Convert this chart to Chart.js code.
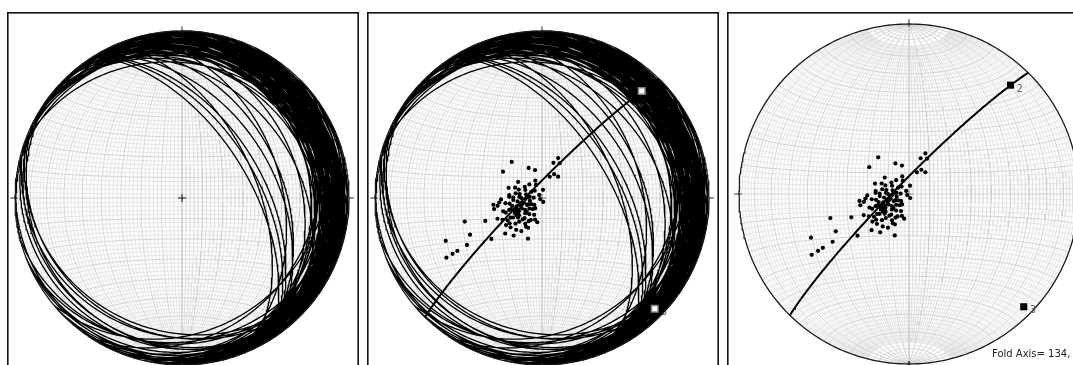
<!DOCTYPE html>
<html><head><meta charset="utf-8">
<script src="https://cdn.jsdelivr.net/npm/chart.js@4.4.1/dist/chart.umd.min.js"></script>
<style>
html,body{margin:0;padding:0;background:#fff;overflow:hidden;width:1073px;height:365px;}
canvas.panel{position:absolute;top:12px;}
</style></head><body>
<canvas id="c1" class="panel" style="left:7px" width="352" height="360"></canvas>
<canvas id="c2" class="panel" style="left:367px" width="352" height="360"></canvas>
<canvas id="c3" class="panel" style="left:727px" width="352" height="360"></canvas>
<script>
// ---- data (poles to planes, lower hemisphere, degrees) ----
const poleTrend = [22,18,27,320,304,336,346,27,20,37,304,339,317,335,303,291,7,280,315,272,271,273,267,276,318,240,163,
  264,262,260,253,245,229,257,251,250,228,214,245,241,237,236,231,221,207,191,233,227,219,212,209,226,217,199,
  253,248,243,238,238,246,238,238,231,
  250,262,240,228,255,270,283,245,233,218,262,248,236,224,210,275,290,300,258,215,205,243,266,252,230,198,287,274,238,222,
  256,268,246,235,280,226,213,260,296,250,240,220,272,232,205];
const polePlunge = [69,72,71,67,67,74,76,77,79,77,76,81,81,83,80,76,86,77,85,74,76,79,82,84,88,89,88,
  69,66,74,80,83,85,66,70,74,80,84,66,68,70,73,75,77,78,78,68,69,70,71,74,65,67,69,
  50,60,50,40,46,37,33,37,58,
  79,78,77,79,75,80,82,82,76,80,72,71,75,74,77,74,78,84,84,84,81,79,76,77,82,79,73,83,72,76,
  81,70,76,80,79,72,75,68,81,73,84,83,86,70,74];
const eigenTrend = [243, 43, 134.5];
const eigenPlunge = [76, 13.5, 6];
const eigenLabels = ['', '2', '3'];
const foldAxisText = 'Fold Axis= 134,';
const netStep = 2, netMajor = 10, netCap = 14;

// ---- projection helpers (equal-area, lower hemisphere) ----
const D = Math.PI / 180;
function proj(trend, plunge) {
  const r = Math.SQRT2 * Math.sin((90 - plunge) / 2 * D);
  return { x: r * Math.sin(trend * D), y: r * Math.cos(trend * D) };
}
function vecProj(e, n, d) {
  if (d < 0) { e = -e; n = -n; d = -d; }
  const pl = Math.asin(Math.min(1, d)) / D;
  const tr = Math.atan2(e, n) / D;
  return proj(tr, pl);
}
function greatCircle(dd, dip, a0, a1, step) {
  const st = (dd - 90) * D;
  const s = [Math.sin(st), Math.cos(st), 0];
  const cd = Math.cos(dip * D), sd = Math.sin(dip * D);
  const dv = [cd * Math.sin(dd * D), cd * Math.cos(dd * D), sd];
  const pts = [];
  for (let a = a0; a <= a1 + 1e-9; a += step) {
    const c = Math.cos(a * D), sn = Math.sin(a * D);
    pts.push(vecProj(c * s[0] + sn * dv[0], c * s[1] + sn * dv[1], c * s[2] + sn * dv[2]));
  }
  return pts;
}
function smallCircleNS(cone, north, step) {
  const pts = [], sgn = north ? 1 : -1;
  for (let p = 0; p <= 180 + 1e-9; p += step) {
    const sc = Math.sin(cone * D);
    pts.push(vecProj(sc * Math.cos(p * D), sgn * Math.cos(cone * D), sc * Math.sin(p * D)));
  }
  return pts;
}
function join(lines) {
  const out = [];
  lines.forEach((l, i) => { if (i) out.push({ x: null, y: null }); out.push(...l); });
  return out;
}

// ---- build net ----
const minorLines = [], majorLines = [];
for (let dip = netStep; dip <= 90; dip += netStep) {
  const major = dip % netMajor === 0;
  const a0 = major ? 0 : netCap, a1 = major ? 180 : 180 - netCap;
  const tgt = major ? majorLines : minorLines;
  tgt.push(greatCircle(90, dip, a0, a1, 2));
  if (dip < 90) tgt.push(greatCircle(270, dip, a0, a1, 2));
}
for (let c = netStep; c <= 90; c += netStep) {
  const tgt = c % netMajor === 0 ? majorLines : minorLines;
  tgt.push(smallCircleNS(c, true, 2));
  if (c < 90) tgt.push(smallCircleNS(c, false, 2));
}
const minorData = join(minorLines), majorData = join(majorLines);

const planeLines = poleTrend.map((t, i) => greatCircle((t + 180) % 360, 90 - polePlunge[i], 0, 180, 1));
const planeData = join(planeLines);
const primitive = [];
for (let a = 0; a <= 360; a += 1) primitive.push({ x: Math.sin(a * D), y: Math.cos(a * D) });
const tickData = join([0, 90, 180, 270].map(a => [
  { x: 0.985 * Math.sin(a * D), y: 0.985 * Math.cos(a * D) },
  { x: 1.028 * Math.sin(a * D), y: 1.028 * Math.cos(a * D) }]));
const crossData = [{ x: -0.024, y: 0 }, { x: 0.024, y: 0 }, { x: null, y: null }, { x: 0, y: -0.024 }, { x: 0, y: 0.024 }];
const poleData = poleTrend.map((t, i) => proj(t, polePlunge[i]));
const eigenData = eigenTrend.map((t, i) => proj(t, eigenPlunge[i]));
const girdleData = greatCircle((eigenTrend[2] + 180) % 360, 90 - eigenPlunge[2], 0, 180, 1);

function lineDS(data, color, width, order) {
  return { data, showLine: true, borderColor: color, borderWidth: width, pointRadius: 0,
    pointHoverRadius: 0, spanGaps: false, tension: 0, fill: false, order };
}

function makePanel(id, opts) {
  const cv = document.getElementById(id);
  const W = cv.width, H = cv.height;
  const R = opts.R, cx = opts.cx, cy = opts.cy;
  const ds = [
    lineDS(minorData, '#e0e0e0', 0.8, 20),
    lineDS(majorData, '#cfcfcf', 0.9, 19),
  ];
  if (opts.planes) ds.push(lineDS(planeData, '#000', 1.3, 15));
  ds.push(lineDS(primitive, '#1a1a1a', 1.3, 14));
  ds.push(lineDS(tickData, '#222', 1, 13));
  ds.push(lineDS(crossData, opts.crossColor, 1, 12));
  if (opts.girdle) ds.push(lineDS(girdleData, '#000', 2, 10));
  if (opts.poles) ds.push({ data: poleData, showLine: false, pointRadius: 2.1, pointStyle: 'circle',
    backgroundColor: '#000', borderColor: '#000', borderWidth: 0, order: 8 });
  if (opts.eigen) {
    ds.push({ data: eigenData, showLine: false, pointStyle: 'rect',
      pointRadius: opts.eigen.radius, backgroundColor: opts.eigen.fill, borderColor: opts.eigen.stroke,
      borderWidth: opts.eigen.bw, order: 5, eigen: true });
  }
  const deco = {
    id: 'deco' + id,
    [opts.labelsBehind ? 'beforeDatasetsDraw' : 'afterDatasetsDraw'](chart) {
      const ctx = chart.ctx;
      const idx = chart.data.datasets.findIndex(d => d.eigen);
      if (idx < 0) return;
      const meta = chart.getDatasetMeta(idx);
      ctx.save();
      ctx.font = '10px "DejaVu Sans", Verdana, sans-serif';
      ctx.fillStyle = '#666';
      ctx.textBaseline = 'middle';
      eigenLabels.forEach((lab, i) => {
        if (!lab) return;
        const el = meta.data[i];
        ctx.fillText(lab, el.x + 6, el.y + 4);
      });
      ctx.restore();
    },
    afterDraw(chart) {
      const ctx = chart.ctx;
      ctx.save();
      if (opts.foldText) {
        ctx.font = '10px "DejaVu Sans", Verdana, sans-serif';
        ctx.fillStyle = '#222';
        ctx.textBaseline = 'alphabetic';
        ctx.fillText(foldAxisText, opts.foldText.x, opts.foldText.y);
      }
      ctx.strokeStyle = '#111';
      ctx.lineWidth = 1.6;
      ctx.strokeRect(0.8, 0.8, W - 1.6, H - 1.6);
      ctx.restore();
    }
  };
  return new Chart(cv, {
    type: 'scatter',
    data: { datasets: ds },
    options: {
      responsive: false, animation: false, devicePixelRatio: 1,
      layout: { padding: 0, autoPadding: false },
      plugins: { legend: { display: false }, tooltip: { enabled: false } },
      events: [],
      scales: {
        x: { type: 'linear', display: false, min: -cx / R, max: (W - cx) / R },
        y: { type: 'linear', display: false, min: -(H - cy) / R, max: cy / R }
      }
    },
    plugins: [deco]
  });
}

makePanel('c1', { R: 167, cx: 175, cy: 186, planes: true, crossColor: '#111' });
makePanel('c2', { R: 167, cx: 175, cy: 186, planes: true, girdle: true, poles: true, crossColor: '#777',
  labelsBehind: true,
  eigen: { radius: [5, 4.6, 4.6], fill: ['#000', '#fff', '#fff'], stroke: ['#000', '#888', '#888'], bw: [0, 1.5, 1.5] } });
makePanel('c3', { R: 170, cx: 182, cy: 182, girdle: true, poles: true, crossColor: '#888',
  eigen: { radius: [5.5, 5, 5], fill: '#000', stroke: '#000', bw: 0 },
  foldText: { x: 265, y: 345 } });
</script>
</body></html>
